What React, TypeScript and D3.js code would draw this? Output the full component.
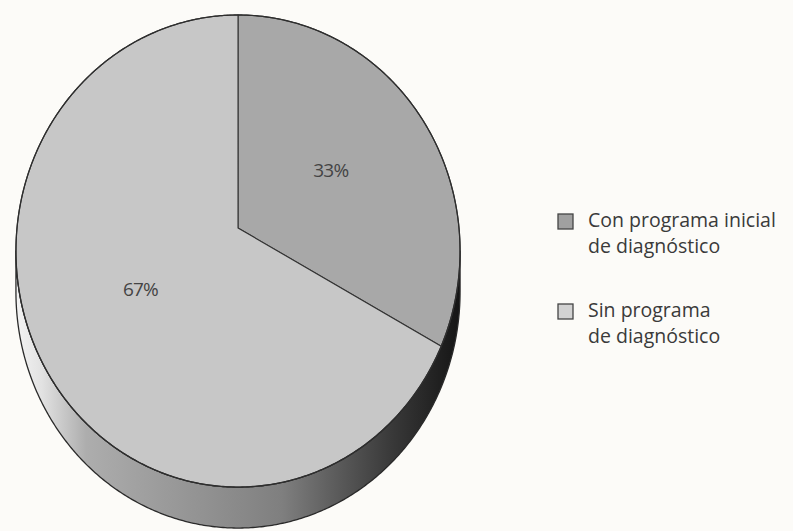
import React from 'react';
import * as d3 from 'd3';

const categories = ['Con programa inicial de diagnóstico', 'Sin programa de diagnóstico'];
const legendLines = [
  ['Con programa inicial', 'de diagnóstico'],
  ['Sin programa', 'de diagnóstico'],
];
const values = [33, 67];
const valueLabels = ['33%', '67%'];
const sliceColors = ['#a8a8a8', '#c7c7c7'];
const legendColors = ['#a0a0a0', '#d2d2d2'];

const W = 793;
const H = 531;
// perspective disc parameters
const CX = 238;
const CY = 228;
const A = 221;
const B = 233.8;
const K = 0.0975;
const DEPTH = 41;

function proj(r: number, ang: number, dy = 0): [number, number] {
  const u = r * Math.sin(ang);
  const v = -r * Math.cos(ang);
  const d = 1 - K * v;
  return [CX + (A * u) / d, CY + (B * v) / d + dy];
}

export default function App() {
  const pie = d3.pie<number>().sort(null).startAngle(0).endAngle(2 * Math.PI);
  const arcs = pie(values);
  const line = d3.line();
  const step = Math.PI / 360;

  const slicePath = (a0: number, a1: number) => {
    const pts: [number, number][] = [proj(0, 0)];
    d3.range(a0, a1, step).forEach((a) => pts.push(proj(1, a)));
    pts.push(proj(1, a1));
    return line(pts) + 'Z';
  };

  // find silhouette angles (min x / max x on rim)
  const samples = d3.range(0, 2 * Math.PI, step);
  const aMax = samples[d3.maxIndex(samples, (a) => proj(1, a)[0])];
  const aMin = samples[d3.minIndex(samples, (a) => proj(1, a)[0])];
  const frontAngles = d3.range(aMax, aMin, step).concat([aMin]);
  const topFront = frontAngles.map((a) => proj(1, a));
  const botFront = frontAngles.slice().reverse().map((a) => proj(1, a, DEPTH));
  const sidePath = line(topFront.concat(botFront)) + 'Z';
  const rimPath = line(samples.map((a) => proj(1, a))) + 'Z';

  const font = "'Open Sans', 'Noto Sans', sans-serif";

  return (
    <svg
      width={W}
      height={H}
      style={{ position: 'absolute', left: 0, top: 0 }}
      viewBox={`0 0 ${W} ${H}`}
    >
      <defs>
        <linearGradient id="sideGrad" gradientUnits="userSpaceOnUse" x1={15} y1={0} x2={460} y2={0}>
          <stop offset="0" stopColor="#f4f4f4" />
          <stop offset="0.06" stopColor="#e2e2e2" />
          <stop offset="0.16" stopColor="#adadad" />
          <stop offset="0.45" stopColor="#8f8f8f" />
          <stop offset="0.6" stopColor="#7f7f7f" />
          <stop offset="0.72" stopColor="#5c5c5c" />
          <stop offset="0.85" stopColor="#383838" />
          <stop offset="1" stopColor="#151515" />
        </linearGradient>
      </defs>
      <rect x={0} y={0} width={W} height={H} fill="#fcfbf8" />
      <path d={sidePath} fill="url(#sideGrad)" stroke="#2a2a2a" strokeWidth={1.3} />
      {arcs.map((a, i) => (
        <path
          key={categories[i]}
          d={slicePath(a.startAngle, a.endAngle)}
          fill={sliceColors[i]}
          stroke="#333"
          strokeWidth={1.1}
        />
      ))}
      <path d={rimPath} fill="none" stroke="#2e2e2e" strokeWidth={1.3} />
      {arcs.map((a, i) => {
        const mid = (a.startAngle + a.endAngle) / 2;
        const [x, y] = proj(0.5, mid);
        return (
          <text
            key={'l' + i}
            x={x}
            y={y}
            textAnchor="middle"
            dominantBaseline="central"
            fontFamily={font}
            fontSize={19}
            fill="#444"
            letterSpacing={-0.8}
          >
            {valueLabels[i]}
          </text>
        );
      })}
      {legendLines.map((lines, i) => {
        const base = 227 + i * 90;
        return (
          <g key={'lg' + i}>
            <rect
              x={558}
              y={base - 13}
              width={15}
              height={15}
              fill={legendColors[i]}
              stroke="#444"
              strokeWidth={1.3}
            />
            {lines.map((t, j) => (
              <text
                key={j}
                x={588}
                y={base + j * 26}
                fontFamily={font}
                fontSize={19.5}
                fill="#3a3a3a"
              >
                {t}
              </text>
            ))}
          </g>
        );
      })}
    </svg>
  );
}
